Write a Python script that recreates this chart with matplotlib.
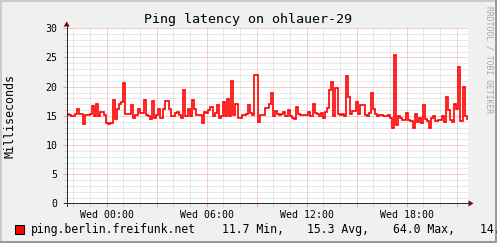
import matplotlib
matplotlib.use("Agg")
import matplotlib.pyplot as plt
import numpy as np
from matplotlib.patches import Polygon, Rectangle
from matplotlib.lines import Line2D
from matplotlib.transforms import IdentityTransform

# ---------------- data ----------------
title = "Ping latency on ohlauer-29"
y_label = "Milliseconds"
series_name = "ping.berlin.freifunk.net"
stat_labels = ["11.7 Min,", "15.3 Avg,", "64.0 Max,", "14.4 Last"]
x_tick_hours = [0, 6, 12, 18]
x_tick_labels = ["Wed 00:00", "Wed 06:00", "Wed 12:00", "Wed 18:00"]
y_ticks = [0, 5, 10, 15, 20, 25, 30]

start_hour = -2.4      # hours relative to Wed 00:00
step_hours = 0.125     # sample spacing
latency = [
    15.3, 15.2, 15.0, 14.9, 15.3, 16.1, 15.4, 15.4, 13.6, 15.2,
    15.2, 15.3, 16.7, 14.9, 17.1, 14.9, 15.6, 15.7, 15.2, 13.8,
    13.6, 13.7, 17.7, 14.4, 16.1, 17.1, 17.3, 20.6, 15.4, 15.4,
    15.4, 16.8, 14.6, 15.2, 16.1, 15.5, 15.5, 17.8, 15.2, 15.0,
    14.4, 17.5, 14.7, 15.2, 16.1, 14.7, 16.1, 17.6, 17.6, 16.1,
    14.9, 14.9, 15.5, 15.7, 15.2, 14.7, 19.4, 15.0, 16.1, 14.9,
    17.8, 16.1, 15.2, 15.2, 15.2, 13.7, 15.7, 15.5, 16.0, 16.6,
    14.9, 15.5, 16.8, 14.7, 15.0, 17.3, 15.0, 17.9, 15.0, 21.0,
    15.2, 17.0, 14.7, 14.7, 15.1, 15.1, 15.4, 16.8, 15.5, 15.1,
    22.0, 22.0, 14.0, 15.2, 15.1, 16.3, 16.3, 17.1, 19.0, 14.9,
    15.8, 15.3, 15.2, 15.4, 15.6, 15.0, 16.0, 14.9, 14.6, 14.5,
    16.6, 15.4, 15.2, 15.2, 15.2, 15.2, 15.7, 14.9, 17.1, 15.5,
    15.4, 14.9, 15.5, 14.7, 15.7, 16.4, 19.5, 20.8, 14.9, 19.7,
    15.4, 15.1, 15.4, 14.9, 21.8, 18.3, 15.4, 15.8, 15.8, 17.3,
    15.4, 16.8, 16.8, 15.2, 14.9, 15.5, 18.9, 16.2, 15.3, 15.0,
    15.1, 15.2, 15.0, 14.9, 15.1, 14.7, 12.9, 25.4, 13.4, 15.0,
    14.7, 14.3, 14.3, 15.5, 14.3, 14.1, 13.0, 15.4, 13.9, 14.7,
    13.8, 16.8, 14.4, 14.1, 13.0, 14.6, 15.0, 14.1, 14.3, 14.3,
    15.0, 13.9, 18.2, 16.0, 14.3, 14.0, 17.1, 16.2, 23.3, 14.1,
    20.0, 14.9, 14.5,
]

# ---------------- style ----------------
W, H = 497, 243
BACK = "#F0F0F0"
SHADEA = "#CBCBCB"
SHADEB = "#999999"
AXIS = "#2C2C2C"
ARROW = "#7F0000"
GRID = "#D2D2D2"
MGRID = "#E8A3A3"
RED = "#FF0000"
MONO = "DejaVu Sans Mono"

fig = plt.figure(figsize=(W / 100, H / 100), dpi=100, facecolor=BACK)

def px(x, y):
    return (x, H - y)

left_px, right_px, top_px, bot_px = 66.7, 468.0, 28.3, 203.4
ax = fig.add_axes([left_px / W, 1 - bot_px / H,
                   (right_px - left_px) / W, (bot_px - top_px) / H])
ax.set_facecolor("white")

values = np.array(latency)
edges = start_hour + step_hours * np.arange(len(values) + 1)
ax.stairs(values, edges, color=RED, linewidth=1.2, baseline=None, zorder=5)

ax.set_xlim(-2.4, 21.68)
ax.set_ylim(0, 30)

ax.set_xticks(np.arange(-0, 22, 3), minor=False)
ax.set_xticks([h for h in range(-2, 22) if h % 3 != 0], minor=True)
ax.set_yticks(y_ticks)
ax.set_yticks([v for v in range(0, 31) if v % 5 != 0], minor=True)

ax.grid(which="minor", color=GRID, linestyle=(0, (1, 1)), linewidth=0.72)
ax.grid(which="major", color=MGRID, linestyle=(0, (1, 1)), linewidth=0.72)
ax.set_axisbelow(True)

ax.set_yticklabels([str(v) for v in y_ticks], fontfamily=MONO, fontsize=7.1)
major_x = list(np.arange(0, 22, 3))
ax.set_xticklabels([x_tick_labels[x_tick_hours.index(h)] if h in x_tick_hours else ""
                    for h in major_x], fontfamily=MONO, fontsize=7.1)
ax.tick_params(which="major", axis="x", length=3, width=0.72, color=MGRID, pad=2.0)
ax.tick_params(which="minor", axis="x", length=2, width=0.72, color=GRID)
ax.tick_params(which="major", axis="y", length=3, width=0.72, color=MGRID, pad=3.5)
ax.tick_params(which="minor", axis="y", length=2, width=0.72, color=GRID)

for s in ax.spines.values():
    s.set_visible(False)

ident = IdentityTransform()
# axis lines
fig.add_artist(Line2D([left_px, left_px], [H - 206, H - 24], transform=ident,
                      color=AXIS, linewidth=0.72))
fig.add_artist(Line2D([63.5, 470], [H - bot_px, H - bot_px], transform=ident,
                      color=AXIS, linewidth=0.72))
# arrows
fig.add_artist(Polygon([px(left_px - 3, 26.5), px(left_px + 3, 26.5), px(left_px, 21.5)],
                       closed=True, transform=ident, color=ARROW, lw=0))
fig.add_artist(Polygon([px(468.5, bot_px - 3), px(468.5, bot_px + 3), px(473.5, bot_px)],
                       closed=True, transform=ident, color=ARROW, lw=0))

# 3D frame
fig.add_artist(Rectangle((0, H - 2), W, 2, transform=ident, color=SHADEA, lw=0))
fig.add_artist(Rectangle((0, 0), 2, H, transform=ident, color=SHADEA, lw=0))
fig.add_artist(Rectangle((0, 0), W, 2, transform=ident, color=SHADEB, lw=0))
fig.add_artist(Rectangle((W - 2, 0), 2, H, transform=ident, color=SHADEB, lw=0))

# texts
fig.text(248 / W, 1 - 19.3 / H, title, fontfamily=MONO, fontsize=9.6,
         ha="center", va="center")
fig.text(10 / W, 1 - 116 / H, y_label, fontfamily=MONO, fontsize=8.4,
         rotation=90, ha="center", va="center")
fig.text(488.5 / W, 1 - 60 / H, "RRDTOOL / TOBI OETIKER", fontfamily=MONO,
         fontsize=5.8, rotation=270, ha="center", va="center", color="#A8A8A8")

# legend
fig.add_artist(Rectangle(px(15, 233.5), 9, 9, transform=ident,
                         facecolor=RED, edgecolor="black", lw=0.72))
fig.text(31 / W, 1 - 229.5 / H, series_name, fontfamily=MONO, fontsize=8.3,
         ha="left", va="center")
for xpos, lab in zip([222, 307.3, 393.3, 480], stat_labels):
    fig.text(xpos / W, 1 - 229.5 / H, lab, fontfamily=MONO, fontsize=8.3,
             ha="left", va="center")

fig.savefig("out.png", dpi=100, facecolor=BACK)
